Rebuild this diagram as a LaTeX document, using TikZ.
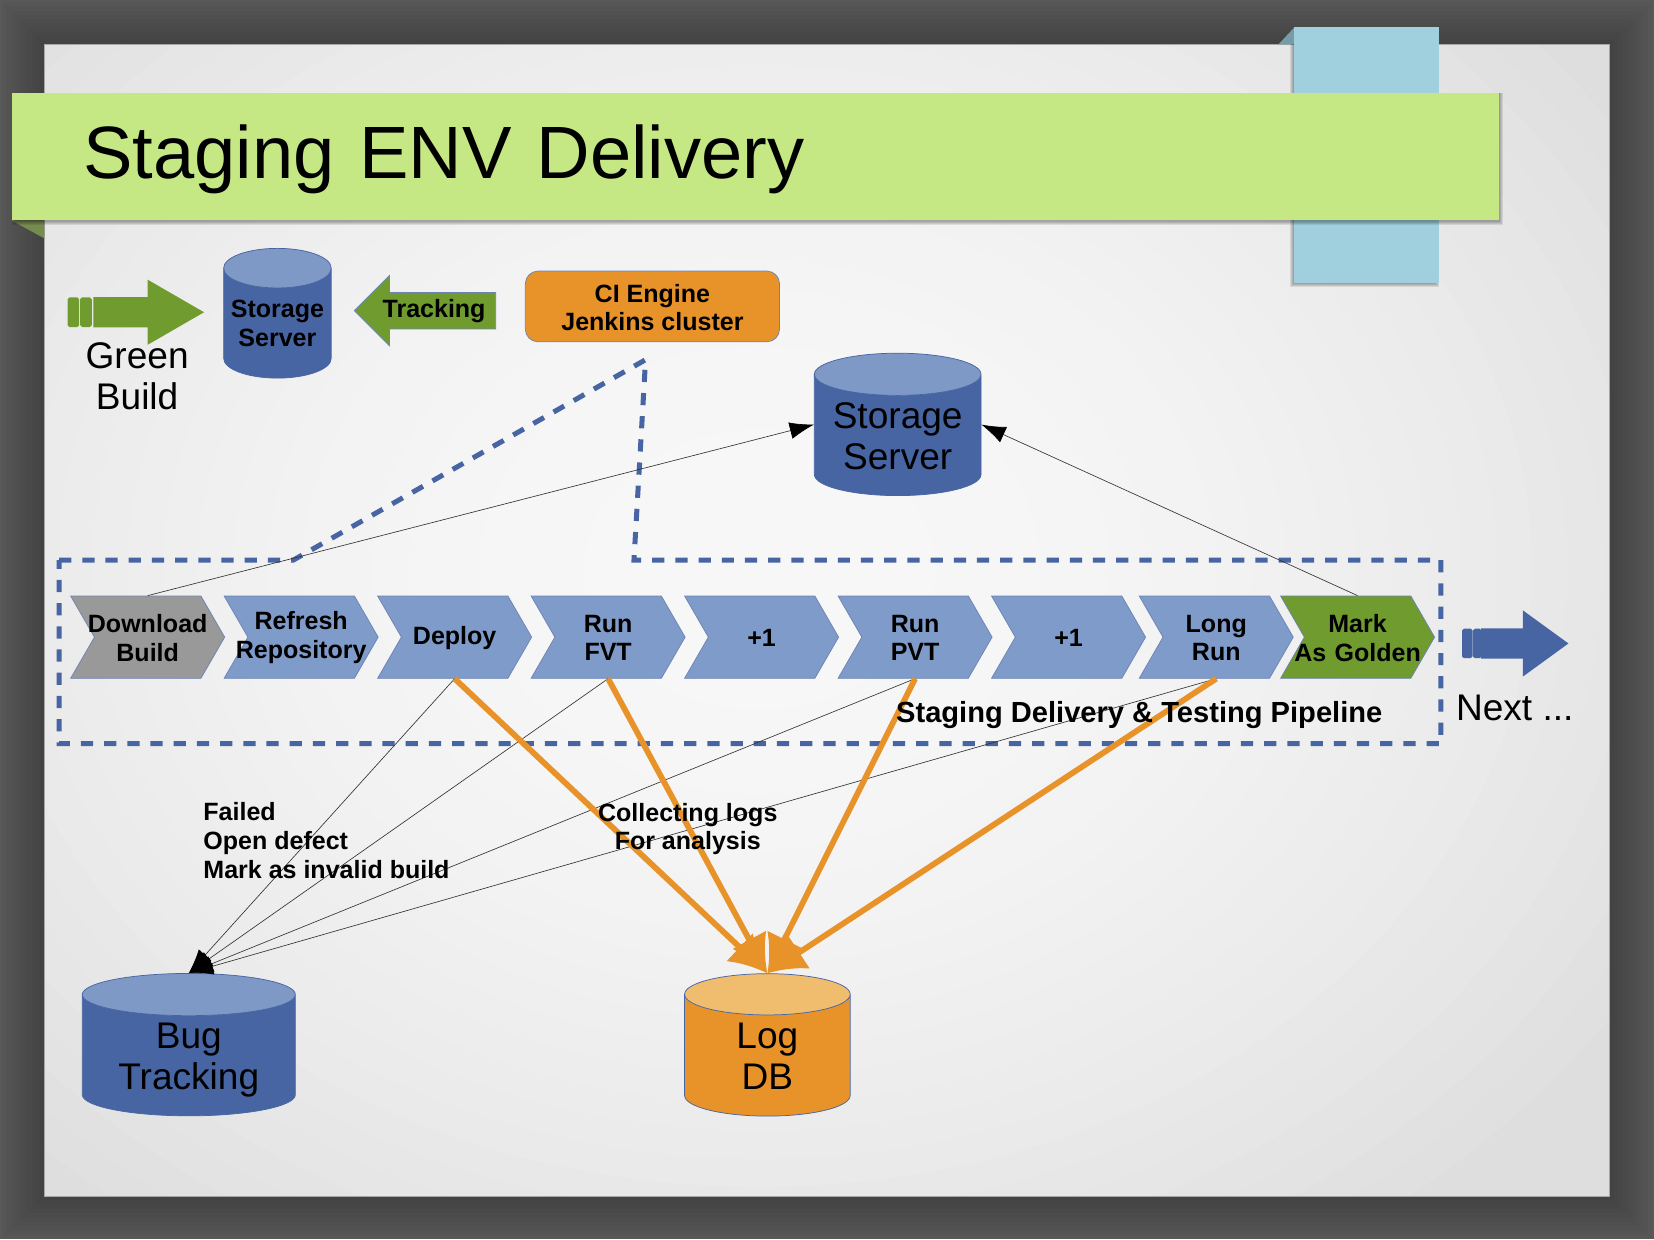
\documentclass[tikz,border=0pt]{standalone}
\usepackage{fontspec}
\setmainfont{Liberation Sans}
\usetikzlibrary{shapes,arrows,arrows.meta}
\newcommand{\un}{0.02cm}
\newcommand{\lowered}[2]{\raisebox{-#1}[\height][\depth]{#2}}
\newcommand{\stepline}[1]{\lowered{0.4pt}{\makebox[0pt]{#1}}}
\newcommand{\softshadow}[4]{\foreach \s in {1,...,4} {\fill[black,opacity=.09] ({#1-\s},{#2}) rectangle ({#3+\s},{#4+\s});}}
\definecolor{darkblue}{HTML}{4865A3}
\definecolor{midblue}{HTML}{7E9BCA}
\definecolor{topblue}{HTML}{7F99C6}
\definecolor{leaf}{HTML}{6F9B2F}
\definecolor{amber}{HTML}{E8932A}
\definecolor{paleamber}{HTML}{F0BC6E}
\definecolor{bannergreen}{HTML}{C5E884}
\definecolor{ribbonblue}{HTML}{A0D0DE}
\tikzstyle{bigtext} = [font=\fontsize{20}{22}\selectfont, align=center]
\tikzstyle{boldtext} = [font=\bfseries\fontsize{13.5}{15.5}\selectfont, align=center]
\tikzstyle{stepblock} = [signal, signal to=east, signal from=west, signal pointer angle=120, draw=darkblue!80, fill=midblue, 
    minimum width=146*\un, minimum height=78*\un, inner sep=0pt, text width=40*\un, boldtext]
\tikzstyle{drum} = [cylinder, shape border rotate=90, draw=darkblue, cylinder uses custom fill, inner sep=0pt, align=center]
\tikzstyle{bluedrum} = [drum, cylinder body fill=darkblue, cylinder end fill=topblue]
\tikzstyle{arrowblock} = [single arrow, inner xsep=0pt, inner ysep=14*\un]
\tikzstyle{tailbit} = [rectangle, rounded corners=1pt, inner sep=0pt]
\tikzstyle{line} = [draw=black!80, line width=0.35pt, -{Latex[length=0.46cm,width=0.32cm,color=black]}]
\tikzstyle{logline} = [draw=amber, line width=0.11cm, -{Latex[length=0.72cm,width=0.74cm]}]
\tikzstyle{pipeline} = [draw=darkblue, line width=0.095cm, dash pattern=on 0.232cm off 0.208cm]
\begin{document}
\begin{tikzpicture}[x=\un, y=-\un]
        \useasboundingbox (0,0) rectangle (1568,1174.6);
        \clip (0,0) rectangle (1568,1174.6);
        % Slide
        \fill[black!65] (0,0) rectangle (1568,1174.6);
        \foreach \w in {80,72,...,8} {\draw[black,opacity=.025,line width=\w*\un] (42,42) rectangle (1526,1134);}
        \begin{scope}
            \clip (42,42) rectangle (1526,1134);
            \fill[white!87!black] (42,42) rectangle (1526,1134);
            \foreach \k in {30,29,...,1} {
                \pgfmathsetmacro{\lite}{97-10*(\k/30)^2}
                \fill[white!\lite!black] (720,540) ellipse [x radius=\k*33.3, y radius=\k*26.6];
            }
        \end{scope}
        \draw[black!35,line width=0.3pt] (42,42) rectangle (1526,1134);

        %Ribbons
        \fill[ribbonblue!75!black] (1212,42) -- (1227,26) -- (1227,42) -- cycle;
        \softshadow{1227}{42}{1360}{268}
        \path (1295.5,147) node (ribbon) [rectangle, fill=ribbonblue, minimum width=137*\un, minimum height=242*\un, inner sep=0pt] {};
        \fill[bannergreen!60!black] (11,209) -- (42,226) -- (42,209) -- cycle;
        \softshadow{15}{88}{1421}{209}
        \path (716,148.5) node (title) [rectangle, fill=bannergreen, minimum width=1410*\un, minimum height=121*\un, inner xsep=68*\un, inner ysep=0pt, text width=1274*\un, font=\fontsize{40}{46}\selectfont] {\lowered{1.7pt}{Staging ENV Delivery}};

        % Place nodes
        \path (69.5,296) node (greentaila) [tailbit, fill=leaf, minimum width=11*\un, minimum height=28*\un] {};
        \path (81.5,296) node (greentailb) [tailbit, fill=leaf, minimum width=11*\un, minimum height=28*\un] {};
        \path (128.5,296) node (greenarrow) [arrowblock, fill=leaf, minimum width=61*\un, minimum height=105*\un, single arrow head extend=16.5*\un, single arrow tip angle=60] {};
        \path (130,357) node (greenbuild) [bigtext] {Green\\Build};
        \path (263,306.5) node (tracking) [bluedrum, minimum width=102*\un, minimum height=123*\un, aspect=.425, boldtext] {Storage\\Server};
        \path (411.5,294.5) node (trackarrow) [arrowblock, shape border rotate=180, inner ysep=5.5*\un, text height=10pt, text depth=3pt, draw=darkblue!80, fill=leaf, minimum width=66*\un, minimum height=134*\un, single arrow head extend=16*\un, single arrow tip angle=90, boldtext] {Tracking};
        \path (618.5,290.5) node (jenkins) [rectangle, rounded corners=0.24cm, draw=darkblue!80, fill=amber, minimum width=241*\un, minimum height=67*\un, inner sep=0pt, boldtext] {\lowered{0.6pt}{CI Engine}\\\lowered{0.6pt}{Jenkins cluster}};
        \path (851,412.5) node (storage) [bluedrum, minimum width=158*\un, minimum height=135*\un, aspect=.325, bigtext] {\lowered{0.5pt}{Storage}\\\lowered{0.5pt}{Server}};

        %Pipeline frame
        \draw[pipeline] (56,531) -- (278,531) -- (612,341) -- (601,531) -- (1366,531) -- (1366,705) -- (56,705) -- cycle;

        %Pipeline steps
        \path (140,604) node (download) [stepblock, fill=black!40] {\stepline{Download}\\\stepline{Build}};
        \path (download)+(145.5,0) node (refresh) [stepblock] {\stepline{Refresh}\\\stepline{Repository}};
        \path (refresh)+(145.5,0) node (deploy) [stepblock] {\stepline{Deploy}};
        \path (deploy)+(145.5,0) node (fvt) [stepblock] {\stepline{Run}\\\stepline{FVT}};
        \path (fvt)+(145.5,0) node (plusa) [stepblock] {\stepline{+1}};
        \path (plusa)+(145.5,0) node (pvt) [stepblock] {\stepline{Run}\\\stepline{PVT}};
        \path (pvt)+(145.5,0) node (plusb) [stepblock] {\stepline{+1}};
        \path (plusb)+(140,0) node (longrun) [stepblock] {\stepline{Long}\\\stepline{Run}};
        \path (longrun)+(134,0) node (golden) [stepblock, fill=leaf] {\stepline{Mark}\\\stepline{As Golden}};

        %Next
        \path (1391,610) node (nexttaila) [tailbit, fill=darkblue, minimum width=10*\un, minimum height=28*\un] {};
        \path (1400.5,610) node (nexttailb) [tailbit, fill=darkblue, minimum width=8*\un, minimum height=28*\un] {};
        \path (1435.5,610) node (nextarrow) [arrowblock, fill=darkblue, minimum width=62*\un, minimum height=83*\un, single arrow head extend=17*\un, single arrow tip angle=72] {};
        \path (1436,671) node (nextlabel) [bigtext] {Next ...};

        %Stores
        \path (179,1000.5) node (bug) [bluedrum, minimum width=202*\un, minimum height=135*\un, aspect=.3, bigtext] {\lowered{2.5pt}{Bug}\\\lowered{2.5pt}{Tracking}};
        \path (727.5,1000.5) node (logdb) [drum, cylinder body fill=amber, cylinder end fill=paleamber, minimum width=157*\un, minimum height=135*\un, aspect=.667, bigtext] {\lowered{0.3pt}{Log}\\\lowered{0.3pt}{DB}};

        %Tracking lines
        \path [line] (download.north) -- ([yshift=0.2cm]storage.west);
        \path [line] (golden.north) -- ([yshift=0.2cm]storage.east);
        \path [line] (deploy.south) -- (bug.north);
        \path [line] (fvt.south) -- (bug.north);
        \path [line] (pvt.south) -- (bug.north);
        \path [line] (longrun.south) -- (bug.north);

        %Log lines
        \path [logline] (deploy.south) -- (logdb.north);
        \path [logline] (fvt.south) -- (logdb.north);
        \path [logline] (pvt.south) -- (logdb.north);
        \path [logline] (longrun.south) -- (logdb.north);

        %Labels
        \path (1080,678) node (pipelabel) [font=\bfseries\fontsize{15.7}{18}\selectfont] {Staging Delivery \& Testing Pipeline};
        \path (309.5,797) node (failed) [boldtext, align=left] {Failed\\Open defect\\Mark as invalid build};
        \path (652,786) node (collect) [boldtext] {Collecting logs\\For analysis};
\end{tikzpicture}
\end{document}
